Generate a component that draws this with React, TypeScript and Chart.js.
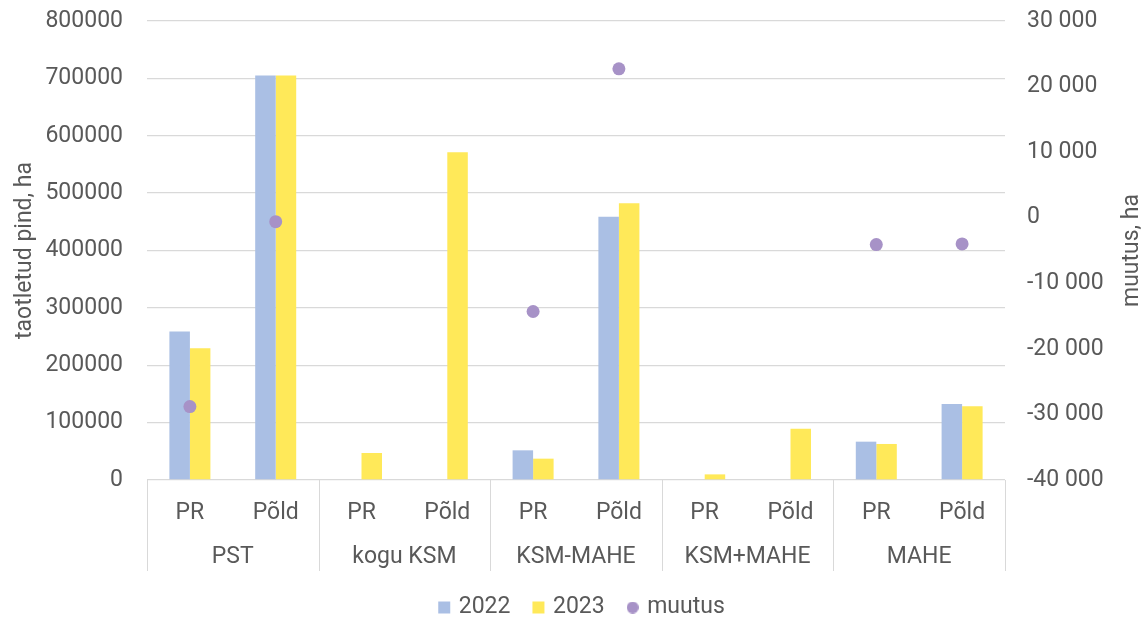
import React, { useEffect, useRef } from "react";
import { Chart, registerables } from "chart.js";

Chart.register(...registerables);

const categories = ["PR", "Põld", "PR", "Põld", "PR", "Põld", "PR", "Põld", "PR", "Põld"];
const groups = ["PST", "kogu KSM", "KSM-MAHE", "KSM+MAHE", "MAHE"];
const values2022 = [259000, 705000, null, null, 51700, 459000, null, null, 66800, 132600];
const values2023 = [229700, 705000, 47100, 571200, 37200, 482200, 9800, 89500, 62800, 128500];
const muutus = [-28800, -600, null, null, -14300, 22700, null, null, -4100, -4000];
const leftTicks = { min: 0, max: 800000, step: 100000 };
const rightTicks = { min: -40000, max: 30000, step: 10000 };

const BLUE = "#AABFE4";
const YELLOW = "#FFE959";
const PURPLE = "#A792C7";
const GRID = "#D9D9D9";
const TEXT = "#595959";
const FONT = "Roboto";
const FS = 23;

function fmtSpace(v: number): string {
  const s = Math.abs(v).toString().replace(/\B(?=(\d{3})+(?!\d))/g, " ");
  return (v < 0 ? "-" : "") + s;
}

const groupPlugin = {
  id: "groupPlugin",
  afterDraw(chart: any) {
    const { ctx, chartArea } = chart;
    const x = chart.scales.x;
    ctx.save();
    ctx.strokeStyle = GRID;
    ctx.lineWidth = 1;
    for (let i = 0; i <= groups.length; i++) {
      let px;
      if (i === 0) px = x.left;
      else if (i === groups.length) px = x.right;
      else px = (x.getPixelForValue(2 * i - 1) + x.getPixelForValue(2 * i)) / 2;
      const xp = Math.round(px) + 0.5;
      ctx.beginPath();
      ctx.moveTo(xp, chartArea.bottom);
      ctx.lineTo(xp, chartArea.bottom + 91);
      ctx.stroke();
    }
    ctx.fillStyle = TEXT;
    ctx.font = `${FS}px ${FONT}`;
    ctx.textAlign = "center";
    ctx.textBaseline = "middle";
    groups.forEach((g, i) => {
      const cx = (x.getPixelForValue(2 * i) + x.getPixelForValue(2 * i + 1)) / 2;
      ctx.fillText(g, cx, chartArea.bottom + 77);
    });
    ctx.translate(1132, (chartArea.top + chartArea.bottom) / 2);
    ctx.rotate(-Math.PI / 2);
    ctx.fillText("muutus, ha", 0, 0);
    ctx.restore();
  },
};

function circleImage(color: string, d: number) {
  const c = document.createElement("canvas");
  c.width = d;
  c.height = d;
  const g = c.getContext("2d")!;
  g.fillStyle = color;
  g.beginPath();
  g.arc(d / 2, d / 2, d / 2, 0, Math.PI * 2);
  g.fill();
  return c;
}

const noVPad = (s: any) => {
  s.paddingTop = 0;
  s.paddingBottom = 0;
};

export default function App() {
  const ref = useRef<HTMLCanvasElement>(null);
  useEffect(() => {
    if (!ref.current) return;
    Chart.defaults.font.family = FONT;
    const dot = circleImage(PURPLE, 12);
    const chart = new Chart(ref.current, {
      type: "bar",
      data: {
        labels: categories,
        datasets: [
          {
            type: "bar",
            label: "2022",
            data: values2022,
            backgroundColor: BLUE,
            borderWidth: 0,
            yAxisID: "y",
            order: 1,
            pointStyle: "rect",
            categoryPercentage: 0.478,
            barPercentage: 1,
          },
          {
            type: "bar",
            label: "2023",
            data: values2023,
            backgroundColor: YELLOW,
            borderWidth: 0,
            yAxisID: "y",
            order: 1,
            pointStyle: "rect",
            categoryPercentage: 0.478,
            barPercentage: 1,
          },
          {
            type: "line",
            label: "muutus",
            data: muutus,
            showLine: false,
            backgroundColor: PURPLE,
            borderColor: PURPLE,
            pointRadius: 6.5,
            pointBorderWidth: 0,
            pointStyle: "circle",
            yAxisID: "y1",
            order: 0,
          } as any,
        ],
      },
      options: {
        animation: false,
        responsive: false,
        layout: { padding: { top: 21, left: 10, right: -8, bottom: -10 } },
        plugins: {
          tooltip: { enabled: false },
          legend: {
            position: "bottom",
            labels: {
              usePointStyle: true,
              boxWidth: 6,
              boxHeight: 12,
              padding: 25,
              color: TEXT,
              font: { size: FS, family: FONT },
              sort: (a: any, b: any) => a.datasetIndex - b.datasetIndex,
              generateLabels: (ch: any) => {
                const items = Chart.defaults.plugins.legend.labels.generateLabels(ch);
                items.forEach((it: any) => {
                  if (it.text === "muutus") it.pointStyle = dot;
                  else it.pointStyle = "rect";
                  it.lineWidth = 0;
                });
                return items;
              },
            },
          },
        },
        scales: {
          x: {
            grid: { display: false, drawTicks: false },
            border: { display: false },
            ticks: { color: TEXT, font: { size: FS }, padding: 19, maxRotation: 0, autoSkip: false },
            afterFit: (s: any) => {
              s.height = 91;
            },
          },
          y: {
            position: "left",
            min: leftTicks.min,
            max: leftTicks.max,
            ticks: {
              stepSize: leftTicks.step,
              color: TEXT,
              font: { size: FS },
              padding: 24,
              callback: (v: any) => String(v),
            },
            grid: { color: GRID, lineWidth: 1.3, drawTicks: false },
            border: { display: false },
            title: {
              display: true,
              text: "taotletud pind, ha",
              color: TEXT,
              font: { size: FS },
              padding: { top: 1, bottom: 0 },
            },
            afterFit: (s: any) => {
              s.width = 137;
              noVPad(s);
            },
          },
          y1: {
            position: "right",
            min: rightTicks.min,
            max: rightTicks.max,
            ticks: {
              stepSize: rightTicks.step,
              color: TEXT,
              font: { size: FS },
              padding: 22,
              callback: (v: any) => fmtSpace(Number(v)),
            },
            grid: { drawOnChartArea: false, drawTicks: false },
            border: { display: false },
            afterFit: (s: any) => {
              s.width = 151;
              noVPad(s);
            },
          },
        },
      },
      plugins: [groupPlugin],
    } as any);
    return () => chart.destroy();
  }, []);
  return (
    <div style={{ position: "fixed", left: 0, top: 0, width: 1148, height: 619, background: "#fff" }}>
      <canvas ref={ref} width={1148} height={619} style={{ display: "block" }} />
    </div>
  );
}
